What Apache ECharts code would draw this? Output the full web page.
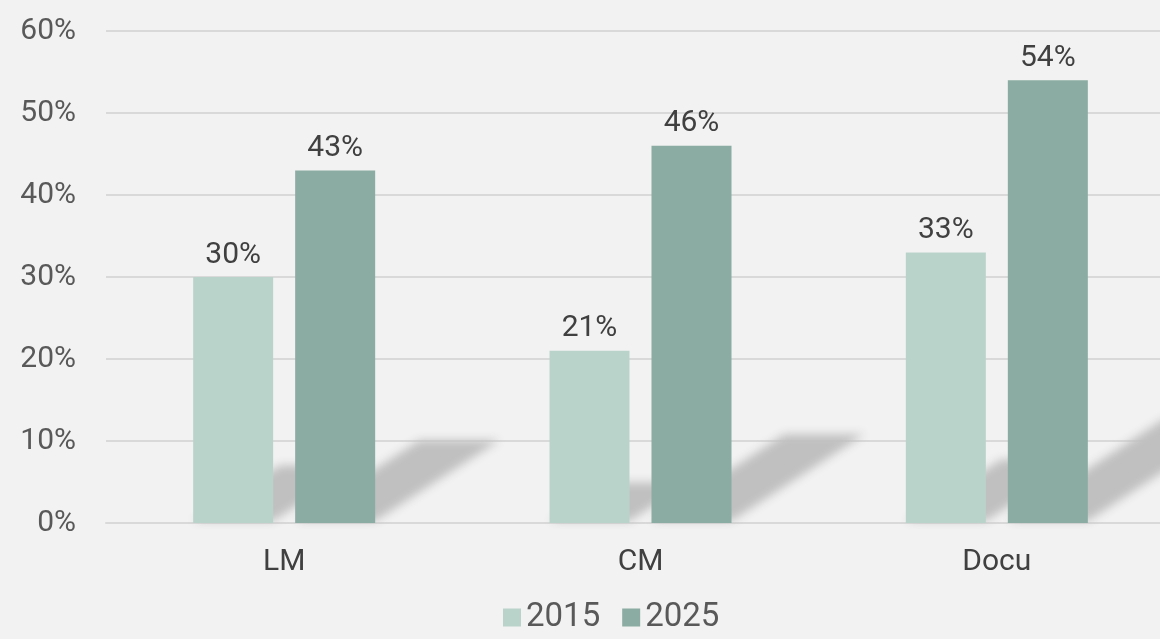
<!DOCTYPE html>
<html>
<head>
<meta charset="utf-8">
<script src="https://cdn.jsdelivr.net/npm/echarts@6/dist/echarts.min.js"></script>
<style>
  html, body { margin: 0; padding: 0; background: #f2f2f2; }
  #main { width: 1160px; height: 639px; }
</style>
</head>
<body>
<div id="main"></div>
<script>
var mychart = echarts.init(document.getElementById('main'));

// data
var categories = ['LM', 'CM', 'Docu'];
var years = ['2015', '2025'];
var values2015 = [30, 21, 33];
var values2025 = [43, 46, 54];
var yTicks = [0, 10, 20, 30, 40, 50, 60];

const barW = 80;
const barGap = 22;
// shadow height as a share of bar value, and its slant
const shadowRatio = 0.235;
const shadowSlant = 1.5;
// draw the polygon off to the side and keep only its blurred canvas shadow
const away = 3000;

function shadowItem(offset) {
    return function (params, api) {
        var base = api.coord([api.value(0), 0]);
        var top = api.coord([api.value(0), api.value(1) * shadowRatio]);
        var dx = (base[1] - top[1]) * shadowSlant;
        var xl = base[0] + offset - barW / 2 + away;
        var xr = xl + barW;
        return {
            type: 'polygon',
            shape: {
                points: [[xl, base[1] - 2], [xr, base[1] - 2], [xr + dx, top[1]], [xl + dx, top[1]]]
            },
            style: {
                fill: '#c0c0c0',
                shadowBlur: 10,
                shadowColor: '#c0c0c0',
                shadowOffsetX: -away
            }
        };
    };
}

function toPairs(arr) {
    return arr.map(function (v, i) { return [i, v]; });
}

var labelStyle = { show: true, position: 'top', distance: 7, fontSize: 30, color: '#404040', formatter: '{c}%' };

var option = {
    backgroundColor: '#f2f2f2',
    textStyle: { fontFamily: 'Roboto' },
    legend: {
        data: years,
        left: 498,
        bottom: 0,
        itemWidth: 18,
        itemHeight: 18,
        itemGap: 22,
        icon: 'rect',
        textStyle: { fontSize: 33, color: '#595959', fontFamily: 'Roboto' }
    },
    grid: {
        left: 106,
        right: -15,
        top: 31,
        bottom: 116,
        outerBoundsMode: 'none'
    },
    xAxis: {
        type: 'category',
        data: categories,
        axisLine: { lineStyle: { color: '#d9d9d9', width: 2 } },
        axisTick: { show: false },
        axisLabel: { fontSize: 30, color: '#404040', margin: 24 }
    },
    yAxis: {
        type: 'value',
        min: yTicks[0],
        max: yTicks[yTicks.length - 1],
        interval: 10,
        axisLine: { show: false },
        axisTick: { show: false },
        axisLabel: { fontSize: 30, color: '#595959', margin: 30, formatter: '{value}%' },
        splitLine: { lineStyle: { color: '#d9d9d9', width: 2 } }
    },
    series: [
        {
            name: 'shadow2015',
            type: 'custom',
            z: 1,
            silent: true,
            clip: false,
            renderItem: shadowItem(-(barW + barGap) / 2),
            encode: { x: 0, y: 1 },
            data: toPairs(values2015)
        },
        {
            name: 'shadow2025',
            type: 'custom',
            z: 1,
            silent: true,
            clip: false,
            renderItem: shadowItem((barW + barGap) / 2),
            encode: { x: 0, y: 1 },
            data: toPairs(values2025)
        },
        {
            name: years[0],
            type: 'bar',
            z: 2,
            barWidth: barW,
            barGap: (barGap / barW * 100) + '%',
            itemStyle: { color: '#b9d3ca' },
            label: labelStyle,
            data: values2015
        },
        {
            name: years[1],
            type: 'bar',
            z: 2,
            barWidth: barW,
            itemStyle: { color: '#8aaca2' },
            label: labelStyle,
            data: values2025
        }
    ]
};

mychart.setOption(option);
</script>
</body>
</html>
